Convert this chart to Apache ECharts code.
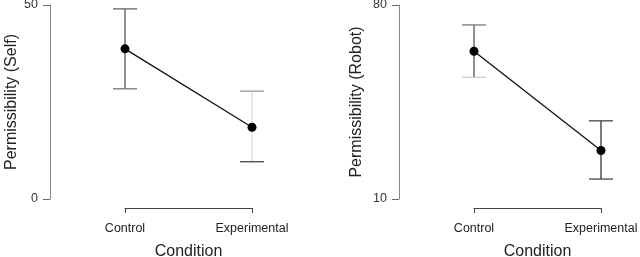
<!DOCTYPE html>
<html>
<head>
<meta charset="utf-8">
<script src="https://cdn.jsdelivr.net/npm/echarts@6/dist/echarts.min.js"></script>
<style>
  html, body { margin: 0; padding: 0; background: #fff; }
  #chart { width: 640px; height: 257px; }
</style>
</head>
<body>
<div id="chart"></div>
<script>
  const conditions = ['Control', 'Experimental'];

  // panel 1: self
  const selfMean = [38.7, 18.5];
  const selfLower = [28.4, 9.6];
  const selfUpper = [49.0, 27.8];
  const selfTicks = [0, 50];

  // panel 2: robot
  const robotMean = [63.3, 27.5];
  const robotLower = [53.9, 17.2];
  const robotUpper = [72.8, 38.2];
  const robotTicks = [10, 80];

  const font = '"Liberation Sans", Arial, sans-serif';

  // bar colours (stem, upper cap, lower cap)
  const barColors = [
    [['#555', '#666', '#777'], ['#ddd', '#999', '#444']],
    [['#555', '#777', '#ccc'], ['#333', '#444', '#444']],
  ];

  const makeErrorBars = (idx, lower, upper) => ({
    type: 'custom',
    xAxisIndex: idx,
    yAxisIndex: idx,
    z: 1,
    silent: true,
    data: conditions.map((c, i) => [i, lower[i], upper[i]]),
    renderItem(params, api) {
      const i = api.value(0);
      const lo = api.coord([i, api.value(1)]);
      const hi = api.coord([i, api.value(2)]);
      const half = 12;
      const col = barColors[idx][params.dataIndex];
      return {
        type: 'group',
        children: [
          { type: 'line', shape: { x1: lo[0], y1: lo[1], x2: hi[0], y2: hi[1] }, style: { stroke: col[0], lineWidth: 1.3 } },
          { type: 'line', shape: { x1: hi[0] - half, y1: hi[1], x2: hi[0] + half, y2: hi[1] }, style: { stroke: col[1], lineWidth: 1.3 } },
          { type: 'line', shape: { x1: lo[0] - half, y1: lo[1], x2: lo[0] + half, y2: lo[1] }, style: { stroke: col[2], lineWidth: 1.3 } },
        ],
      };
    },
  });

  const makeYAxis = (idx, name, ticks, gap) => ({
    type: 'value',
    gridIndex: idx,
    min: ticks[0],
    max: ticks[ticks.length - 1],
    offset: 75,
    name,
    nameLocation: 'middle',
    nameGap: gap,
    nameTextStyle: { fontFamily: font, fontSize: 16, color: '#222' },
    axisLine: { show: true, lineStyle: { color: '#888', width: 1 } },
    axisTick: { show: true, length: 7, customValues: ticks, lineStyle: { color: '#666' } },
    axisLabel: { customValues: ticks, margin: 12, fontFamily: font, fontSize: 12.5, color: '#333' },
    splitLine: { show: false },
  });

  const makeXAxis = (idx) => ({
    type: 'category',
    gridIndex: idx,
    data: conditions,
    boundaryGap: false,
    offset: 9,
    name: 'Condition',
    nameLocation: 'middle',
    nameGap: 36,
    nameTextStyle: { fontFamily: font, fontSize: 16, color: '#222' },
    axisLine: { show: true, onZero: false, lineStyle: { color: '#444', width: 1 } },
    axisTick: { show: true, length: 5, lineStyle: { color: '#444' } },
    axisLabel: { margin: 14, fontFamily: font, fontSize: 12.5, color: '#222' },
    splitLine: { show: false },
  });

  const makeMeans = (idx, mean) => ({
    type: 'line',
    xAxisIndex: idx,
    yAxisIndex: idx,
    z: 3,
    data: mean,
    symbol: 'circle',
    symbolSize: 9,
    itemStyle: { color: '#000' },
    lineStyle: { color: '#111', width: 1.3 },
    silent: true,
  });

  const chart = echarts.init(document.getElementById('chart'));
  chart.setOption({
    animation: false,
    backgroundColor: '#fff',
    grid: [
      { left: 125, top: 5, width: 127, height: 194, outerBoundsMode: 'none' },
      { left: 474, top: 5, width: 127, height: 194, outerBoundsMode: 'none' },
    ],
    xAxis: [makeXAxis(0), makeXAxis(1)],
    yAxis: [
      makeYAxis(0, 'Permissibility (Self)', selfTicks, 30),
      makeYAxis(1, 'Permissibility (Robot)', robotTicks, 34),
    ],
    series: [
      makeErrorBars(0, selfLower, selfUpper),
      makeMeans(0, selfMean),
      makeErrorBars(1, robotLower, robotUpper),
      makeMeans(1, robotMean),
    ],
  });
</script>
</body>
</html>
